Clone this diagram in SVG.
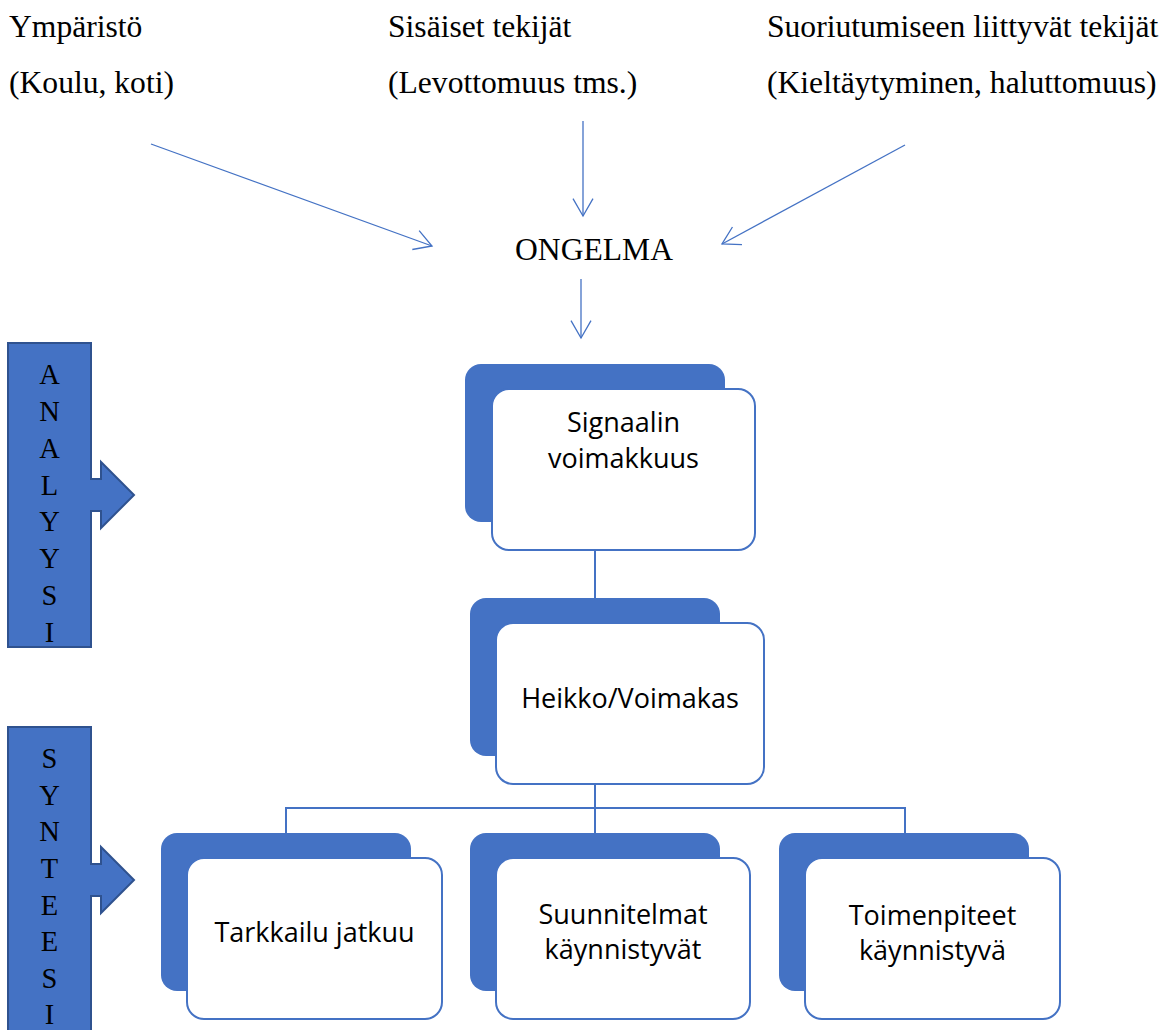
<svg xmlns="http://www.w3.org/2000/svg" width="1168" height="1030" viewBox="0 0 1168 1030">
<style>
.ser{font-family:"Liberation Serif","Times New Roman",serif;font-size:31.6px;fill:#000}
.let{font-family:"Liberation Serif","Times New Roman",serif;font-size:28.5px;fill:#000;text-anchor:middle}
.san{font-family:"Open Sans","Noto Sans",sans-serif;font-size:27px;fill:#000;text-anchor:middle}
.back{fill:#4472C4;stroke:none}
.front{fill:#fff;stroke:#4472C4;stroke-width:2}
.arr{stroke:#4472C4;stroke-width:1.3;fill:none}
.tree{stroke:#4472C4;stroke-width:2;fill:none}
.bar{fill:#4472C4;stroke:#2F528F;stroke-width:2}
</style>
<defs>
<marker id="vhead" markerUnits="userSpaceOnUse" viewBox="-20 -12 22 24" markerWidth="22" markerHeight="24" refX="0" refY="0" orient="auto">
<path d="M-17.3,-10 L0,0 L-17.3,10" fill="none" stroke="#4472C4" stroke-width="1.3"/>
</marker>
</defs>
<rect width="1168" height="1030" fill="#fff"/>

<g id="factor-environment">
<text class="ser" x="9" y="37">Ympäristö</text>
<text class="ser" x="9" y="93">(Koulu, koti)</text>
</g>
<g id="factor-internal">
<text class="ser" x="388" y="37">Sisäiset tekijät</text>
<text class="ser" x="388" y="93">(Levottomuus tms.)</text>
</g>
<g id="factor-performance">
<text class="ser" x="767" y="37">Suoriutumiseen liittyvät tekijät</text>
<text class="ser" x="767" y="93">(Kieltäytyminen, haluttomuus)</text>
</g>
<g id="problem">
<text class="ser" x="515" y="260">ONGELMA</text>
</g>

<g id="analyysi">
<path class="bar" d="M8,343 H91 V479 H101 V462 L134,495 L101,528 V511 H91 V647 H8 Z"/>
<text class="let" x="49.5" y="384">A</text>
<text class="let" x="49.5" y="421">N</text>
<text class="let" x="49.5" y="458">A</text>
<text class="let" x="49.5" y="494.5">L</text>
<text class="let" x="49.5" y="531">Y</text>
<text class="let" x="49.5" y="568">Y</text>
<text class="let" x="49.5" y="605">S</text>
<text class="let" x="49.5" y="642">I</text>
</g>
<g id="synteesi">
<path class="bar" d="M8,727 H91 V864 H101 V847 L134,880 L101,913 V896 H91 V1040 H8 Z"/>
<text class="let" x="49.5" y="768">S</text>
<text class="let" x="49.5" y="804.6">Y</text>
<text class="let" x="49.5" y="841">N</text>
<text class="let" x="49.5" y="878">T</text>
<text class="let" x="49.5" y="914.6">E</text>
<text class="let" x="49.5" y="951">E</text>
<text class="let" x="49.5" y="988">S</text>
<text class="let" x="49.5" y="1024">I</text>
</g>

<g id="connectors">
<line class="arr" x1="151" y1="144" x2="432" y2="246" marker-end="url(#vhead)"/>
<line class="arr" x1="583" y1="121" x2="583" y2="216" marker-end="url(#vhead)"/>
<line class="arr" x1="905" y1="145" x2="722" y2="244" marker-end="url(#vhead)"/>
<line class="arr" x1="581" y1="279" x2="581" y2="338" marker-end="url(#vhead)"/>
<path class="tree" d="M595,550 V598"/>
<path class="tree" d="M595,784 V833"/>
<path class="tree" d="M286,833 V808 H905 V833"/>
</g>

<g id="node-signaalin">
<rect class="back" x="465" y="364" width="260" height="158" rx="16"/>
<rect class="front" x="492" y="389" width="263" height="161" rx="17"/>
<text class="san" x="623.5" y="432">Signaalin</text>
<text class="san" x="623.5" y="468">voimakkuus</text>
</g>
<g id="node-heikko">
<rect class="back" x="470" y="598" width="250" height="158" rx="16"/>
<rect class="front" x="496" y="623" width="268" height="161" rx="17"/>
<text class="san" x="630" y="708">Heikko/Voimakas</text>
</g>
<g id="node-tarkkailu">
<rect class="back" x="161" y="833" width="250" height="158" rx="16"/>
<rect class="front" x="187" y="858" width="255" height="161" rx="17"/>
<text class="san" x="314.5" y="942">Tarkkailu jatkuu</text>
</g>
<g id="node-suunnitelmat">
<rect class="back" x="470" y="833" width="250" height="158" rx="16"/>
<rect class="front" x="496" y="858" width="254" height="161" rx="17"/>
<text class="san" x="623" y="924">Suunnitelmat</text>
<text class="san" x="623" y="959">käynnistyvät</text>
</g>
<g id="node-toimenpiteet">
<rect class="back" x="779" y="833" width="250" height="158" rx="16"/>
<rect class="front" x="805" y="858" width="255" height="161" rx="17"/>
<text class="san" x="932.5" y="925">Toimenpiteet</text>
<text class="san" x="932.5" y="960">käynnistyvä</text>
</g>
</svg>
